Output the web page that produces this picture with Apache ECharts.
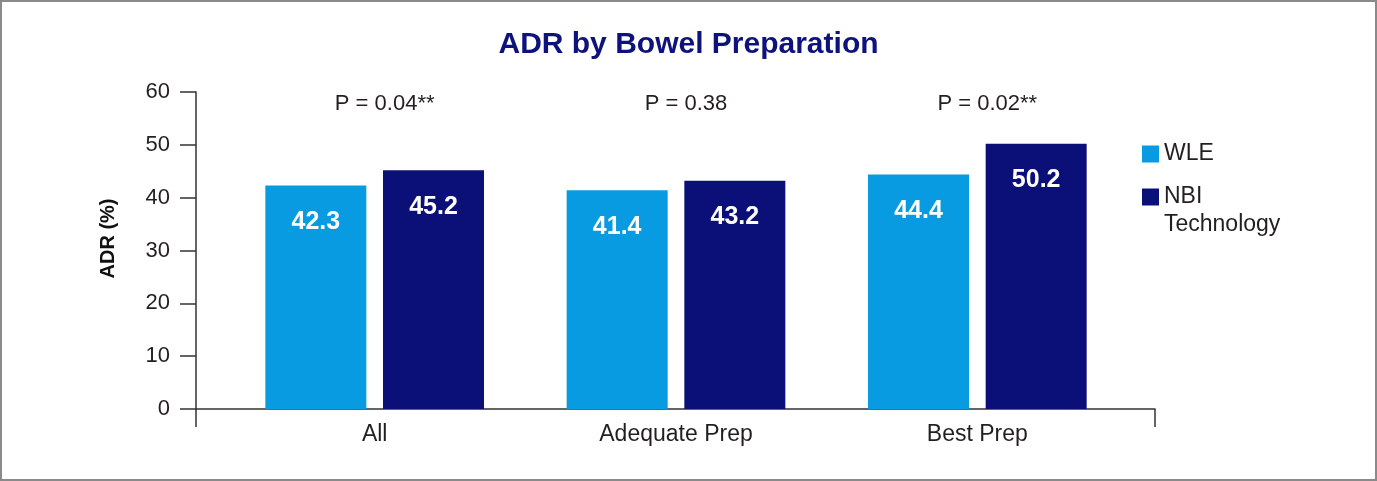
<!DOCTYPE html>
<html>
<head>
<meta charset="utf-8">
<script src="https://cdn.jsdelivr.net/npm/echarts@6/dist/echarts.min.js"></script>
<style>
  html, body { margin: 0; padding: 0; background: #fff; }
  #chart { width: 1377px; height: 481px; }
</style>
</head>
<body>
<div id="chart"></div>
<script>
// data
var categories = ['All', 'Adequate Prep', 'Best Prep'];
var wleValues = [42.3, 41.4, 44.4];
var nbiValues = [45.2, 43.2, 50.2];
var pLabels = ['P = 0.04**', 'P = 0.38', 'P = 0.02**'];
var yTicks = [0, 10, 20, 30, 40, 50, 60];

var FONT = '"Liberation Sans", Arial, Helvetica, sans-serif';
var TEXT = '#231f20';
var AXIS = '#333333';

var chart = echarts.init(document.getElementById('chart'), null, { renderer: 'canvas' });

var option = {
  animation: false,
  textStyle: { fontFamily: FONT },
  title: {
    text: 'ADR by Bowel Preparation',
    left: 'center',
    top: 25,
    textStyle: { fontFamily: FONT, fontSize: 30, fontWeight: 'bold', color: '#0d137a' }
  },
  graphic: [{
    type: 'rect',
    shape: { x: 1, y: 1, width: 1375, height: 479 },
    style: { fill: 'none', stroke: '#8a8a8a', lineWidth: 2 },
    silent: true
  }],
  legend: {
    orient: 'vertical',
    left: 1137,
    top: 135,
    itemWidth: 17,
    itemHeight: 17,
    itemGap: -13,
    icon: 'rect',
    data: ['WLE', 'NBI Technology'],
    // two-word names wrap; a blank first line keeps "NBI" level with the swatch
    formatter: function (name) {
      return name.indexOf(' ') >= 0 ? '\n' + name.replace(' ', '\n') : name;
    },
    textStyle: { fontFamily: FONT, fontSize: 23, color: TEXT, lineHeight: 28 }
  },
  grid: [
    // frame grid: carries the visible axes
    { left: 196, right: 222, top: 92, bottom: 72 },
    // bar grid: narrower so the groups land where they do in the reference
    { left: 224, right: 249, top: 92, bottom: 72 }
  ],
  xAxis: [
    {
      gridIndex: 0,
      type: 'value',
      min: 0, max: 1, interval: 1,
      axisLine: { show: true, lineStyle: { color: AXIS, width: 1.5 } },
      axisTick: { show: true, length: 18, lineStyle: { color: AXIS, width: 1.5 } },
      axisLabel: { show: false },
      splitLine: { show: false }
    },
    {
      gridIndex: 1,
      type: 'category',
      data: categories,
      axisLine: { show: false },
      axisTick: { show: false },
      axisLabel: { fontFamily: FONT, fontSize: 23, color: TEXT, margin: 14 },
      splitLine: { show: false }
    }
  ],
  yAxis: [
    {
      gridIndex: 0,
      type: 'value',
      min: yTicks[0], max: yTicks[yTicks.length - 1], interval: 10,
      name: 'ADR (%)',
      nameLocation: 'middle',
      nameGap: 78,
      nameTextStyle: { fontFamily: FONT, fontSize: 20, fontWeight: 'bold', color: '#111', padding: [0, 0, 0, 24] },
      axisLine: { show: true, lineStyle: { color: AXIS, width: 1.5 } },
      axisTick: { show: true, length: 16, lineStyle: { color: AXIS, width: 1.5 } },
      axisLabel: { fontFamily: FONT, fontSize: 22, color: TEXT, margin: 26 },
      splitLine: { show: false }
    },
    {
      gridIndex: 1,
      type: 'value',
      min: yTicks[0], max: yTicks[yTicks.length - 1], interval: 10,
      show: false
    }
  ],
  series: [
    {
      name: 'WLE',
      type: 'bar',
      xAxisIndex: 1, yAxisIndex: 1,
      barWidth: 101,
      barGap: '16.5%',
      itemStyle: { color: '#099be2' },
      label: {
        show: true, position: 'insideTop', distance: 24,
        fontFamily: FONT, fontSize: 25, fontWeight: 'bold', color: '#fff'
      },
      data: wleValues
    },
    {
      name: 'NBI Technology',
      type: 'bar',
      xAxisIndex: 1, yAxisIndex: 1,
      barWidth: 101,
      barGap: '16.5%',
      itemStyle: { color: '#0a1078' },
      label: {
        show: true, position: 'insideTop', distance: 24,
        fontFamily: FONT, fontSize: 25, fontWeight: 'bold', color: '#fff'
      },
      data: nbiValues
    },
    {
      // p-value annotations above each group
      name: 'p',
      type: 'scatter',
      xAxisIndex: 1, yAxisIndex: 1,
      symbolSize: 0,
      silent: true,
      itemStyle: { opacity: 1 },
      label: {
        show: true, position: 'inside', offset: [10, 12],
        fontFamily: FONT, fontSize: 22, color: TEXT, opacity: 1,
        formatter: function (p) { return pLabels[p.dataIndex]; }
      },
      data: categories.map(function (c) { return [c, yTicks[yTicks.length - 1]]; })
    }
  ]
};

chart.setOption(option);
</script>
</body>
</html>
